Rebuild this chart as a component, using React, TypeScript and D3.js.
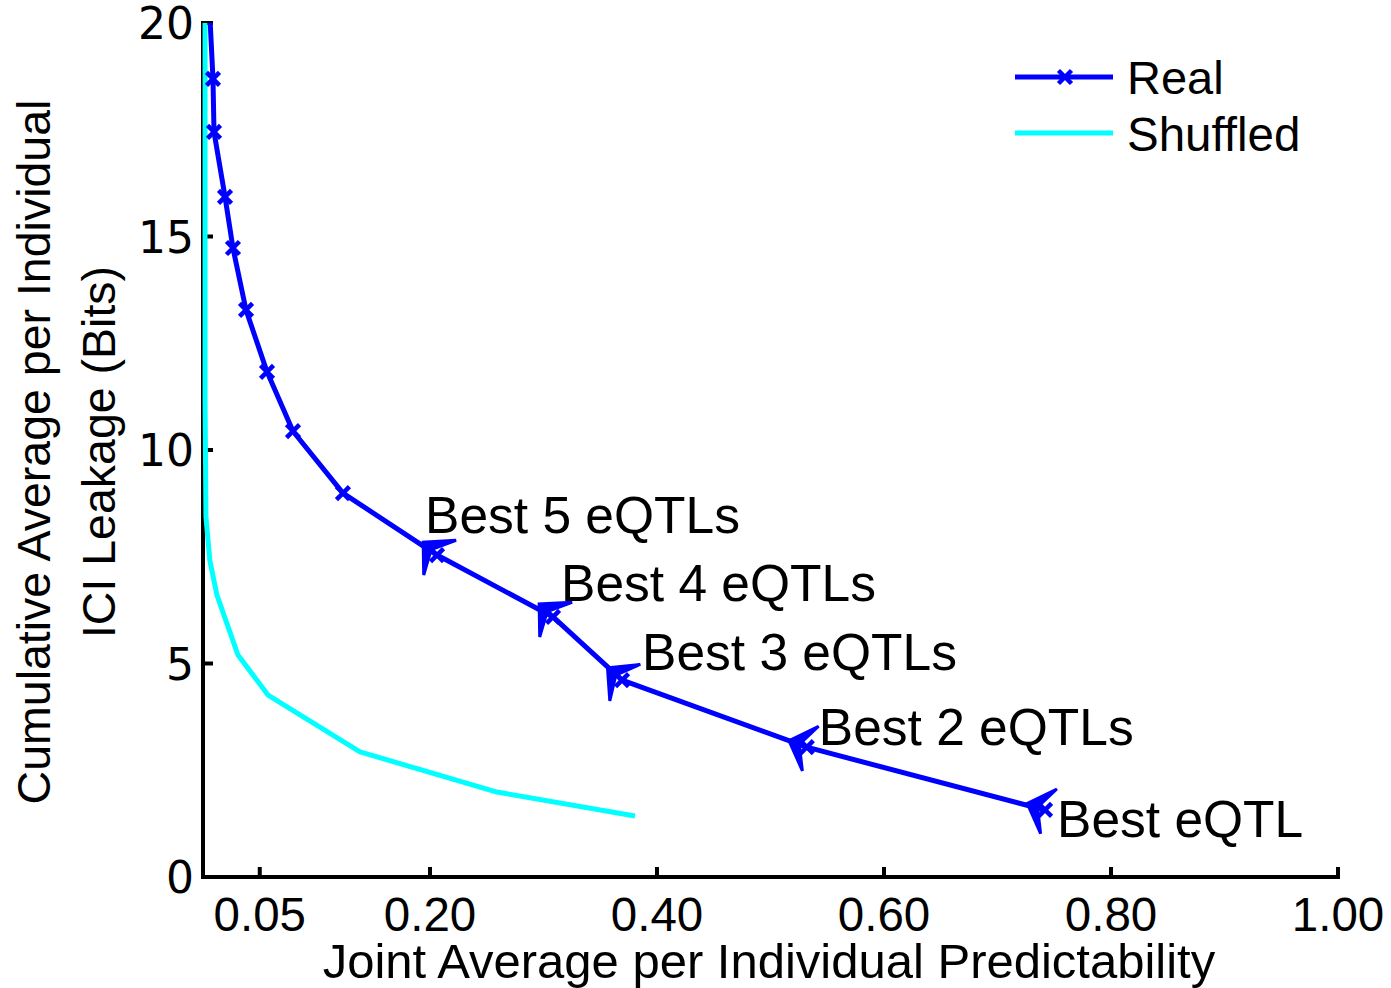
import React from "react";
import * as d3 from "d3";

// ---- data ----
const realX = [0.0045, 0.0088, 0.0097, 0.0194, 0.0264, 0.0379, 0.0564, 0.0793, 0.1233, 0.2062, 0.3084, 0.3692, 0.532, 0.7419];
const realY = [21.0, 18.69, 17.45, 15.93, 14.73, 13.28, 11.83, 10.44, 8.99, 7.54, 6.09, 4.61, 3.04, 1.57];

const shufX = [0.0018, 0.0018, 0.0026, 0.006, 0.0123, 0.0308, 0.0573, 0.1383, 0.259, 0.3806];
const shufY = [20.5, 11.2, 8.43, 7.42, 6.6, 5.2, 4.26, 2.93, 1.99, 1.43];

const xTicks = [0.05, 0.2, 0.4, 0.6, 0.8, 1.0];
const xTickLabels = ["0.05", "0.20", "0.40", "0.60", "0.80", "1.00"];
const yTicks = [0, 5, 10, 15, 20];
const yTickLabels = ["0", "5", "10", "15", "20"];

const annotLabels = ["Best 5 eQTLs", "Best 4 eQTLs", "Best 3 eQTLs", "Best 2 eQTLs", "Best eQTL"];
const annotIndex = [9, 10, 11, 12, 13];

const seriesNames = ["Real", "Shuffled"];

// ---- layout / style ----
const annotDx = [-12, 8, 20, 12, 12];
const annotDy = [-22, -16, -10, -2, 27];
const annotArrowAngle = [223, 223, 220, 200, 200];

const W = 1391;
const H = 988;
const FONT = "'Liberation Sans', Arial, Helvetica, sans-serif";
const BLUE = "#0000ff";
const CYAN = "#00ffff";

export default function App() {
  const x = d3.scaleLinear().domain([0, 1]).range([203, 1338]);
  const y = d3.scaleLinear().domain([0, 20]).range([877, 23]);

  const realData = realX.map((v, i) => [v, realY[i]] as [number, number]);
  const shufData = shufX.map((v, i) => [v, shufY[i]] as [number, number]);

  const line = d3
    .line<[number, number]>()
    .x((d) => x(d[0]))
    .y((d) => y(d[1]));

  const xMark = (cx: number, cy: number, s: number, key: any) => (
    <path
      key={key}
      d={`M${cx - s},${cy - s}L${cx + s},${cy + s}M${cx - s},${cy + s}L${cx + s},${cy - s}`}
      stroke={BLUE}
      strokeWidth={4.5}
      fill="none"
    />
  );

  const arrowHead = (px: number, py: number, angDeg: number, key: any) => {
    const a = (angDeg * Math.PI) / 180;
    const dx = Math.cos(a);
    const dy = Math.sin(a);
    const tx = px + 19 * dx;
    const ty = py + 19 * dy;
    const bx = -dx;
    const by = -dy;
    const rot = (vx: number, vy: number, t: number) => [
      vx * Math.cos(t) - vy * Math.sin(t),
      vx * Math.sin(t) + vy * Math.cos(t),
    ];
    const L = 33;
    const h = (46 * Math.PI) / 180;
    const [r1x, r1y] = rot(bx, by, h);
    const [r2x, r2y] = rot(bx, by, -h);
    const b1 = [tx + L * r1x, ty + L * r1y];
    const b2 = [tx + L * r2x, ty + L * r2y];
    const m = [tx + 11 * bx, ty + 11 * by];
    return (
      <path
        key={key}
        d={`M${tx},${ty}L${b1[0]},${b1[1]}L${m[0]},${m[1]}L${b2[0]},${b2[1]}Z`}
        fill={BLUE}
        stroke={BLUE}
        strokeWidth={3}
        strokeLinejoin="miter"
      />
    );
  };

  return (
    <svg
      width={W}
      height={H}
      style={{ position: "absolute", left: 0, top: 0, background: "#fff" }}
      fontFamily={FONT}
    >
      <defs>
        <clipPath id="plotClip">
          <rect x={199} y={23} width={1145} height={858} />
        </clipPath>
      </defs>
      <rect x={0} y={0} width={W} height={H} fill="#fff" />

      {/* axes */}
      <line x1={x(0)} y1={y(20) - 2} x2={x(0)} y2={y(0) + 2} stroke="#000" strokeWidth={4} />
      <line x1={x(0) - 2} y1={y(0)} x2={x(1) + 2} y2={y(0)} stroke="#000" strokeWidth={4} />
      {yTicks.map((t, i) => (
        <g key={"yt" + i}>
          <line x1={x(0)} x2={x(0) + 10} y1={y(t)} y2={y(t)} stroke="#000" strokeWidth={4} />
          <text
            x={194}
            y={y(t)}
            dy="0.37em"
            textAnchor="end"
            fontFamily="'DejaVu Sans', sans-serif"
            fontSize={44}
            fill="#000"
          >
            {yTickLabels[i]}
          </text>
        </g>
      ))}
      {xTicks.map((t, i) => (
        <g key={"xt" + i}>
          <line x1={x(t)} x2={x(t)} y1={y(0)} y2={y(0) - 10} stroke="#000" strokeWidth={4} />
          <text x={x(t)} y={931} textAnchor="middle" fontSize={47.5} fill="#000">
            {xTickLabels[i]}
          </text>
        </g>
      ))}

      {/* series */}
      <g clipPath="url(#plotClip)">
        <path d={line(shufData) || ""} fill="none" stroke={CYAN} strokeWidth={5} strokeLinejoin="round" />
        <path d={line(realData) || ""} fill="none" stroke={BLUE} strokeWidth={5} strokeLinejoin="round" />
        {realData.map((d, i) => xMark(x(d[0]), y(d[1]), 6.5, "m" + i))}
      </g>

      {/* annotations */}
      {annotLabels.map((lab, i) => {
        const d = realData[annotIndex[i]];
        const px = x(d[0]);
        const py = y(d[1]);
        return (
          <g key={"a" + i}>
            {arrowHead(px, py, annotArrowAngle[i], "ah" + i)}
            <text x={px + annotDx[i]} y={py + annotDy[i]} fontSize={51.5} fill="#000">
              {lab}
            </text>
          </g>
        );
      })}

      {/* legend */}
      <g>
        <line x1={1015} x2={1113} y1={77} y2={77} stroke={BLUE} strokeWidth={5} />
        {xMark(1065, 77, 6.5, "lm")}
        <text x={1127} y={94} fontSize={47} fill="#000">
          {seriesNames[0]}
        </text>
        <line x1={1015} x2={1113} y1={133} y2={133} stroke={CYAN} strokeWidth={5} />
        <text x={1127} y={151} fontSize={47.5} fill="#000">
          {seriesNames[1]}
        </text>
      </g>

      {/* axis titles */}
      <text x={769} y={978} textAnchor="middle" fontSize={49} fill="#000">
        Joint Average per Individual Predictability
      </text>
      <g transform="translate(50,452) rotate(-90)">
        <text x={0} y={0} textAnchor="middle" fontSize={46.5} fill="#000">
          Cumulative Average per Individual
        </text>
      </g>
      <g transform="translate(115,452) rotate(-90)">
        <text x={0} y={0} textAnchor="middle" fontSize={46.5} fill="#000">
          ICI Leakage (Bits)
        </text>
      </g>
    </svg>
  );
}
